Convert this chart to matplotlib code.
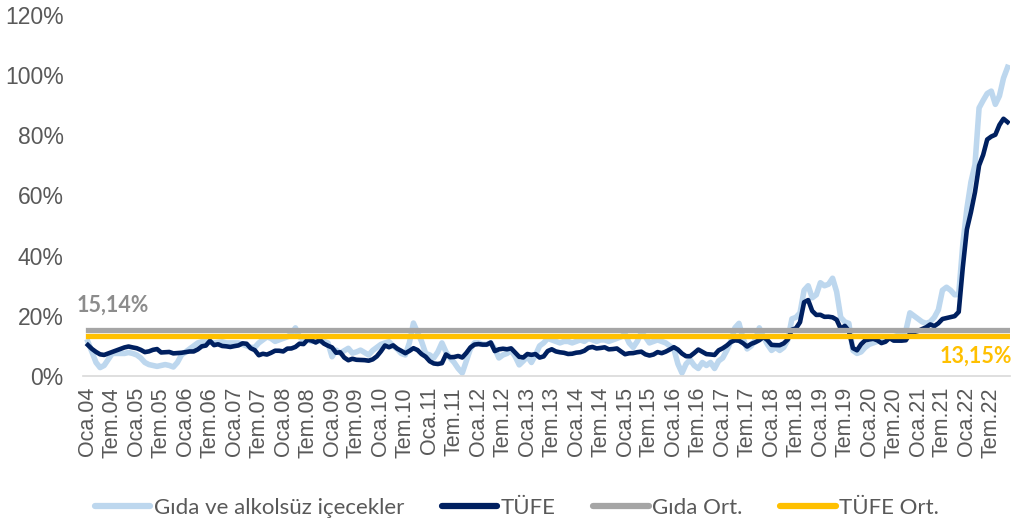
import matplotlib
matplotlib.use("Agg")
import matplotlib.pyplot as plt
from matplotlib.ticker import FuncFormatter

# Yıllık % değişim, Ocak 2004 - Kasım 2022 (aylık)
tufe = [
    10.3, 9.0, 8.0, 7.2, 7.0, 7.5, 8.0, 8.5, 9.0, 9.5, 9.8, 9.5,              # 2004
    9.24, 8.69, 7.94, 8.18, 8.70, 8.95, 7.82, 7.91, 7.99, 7.52, 7.61, 7.72,   # 2005
    7.93, 8.15, 8.16, 8.83, 9.86, 10.12, 11.69, 10.26, 10.55, 9.98, 9.86, 9.65,
    9.93, 10.16, 10.86, 10.72, 9.23, 8.60, 6.90, 7.39, 7.12, 7.70, 8.40, 8.39,
    8.17, 9.10, 9.15, 9.66, 10.74, 10.61, 12.06, 11.77, 11.13, 11.99, 10.76, 10.06,
    9.50, 7.73, 7.89, 6.13, 5.24, 5.73, 5.39, 5.33, 5.27, 5.08, 5.53, 6.53,
    8.19, 10.13, 9.56, 10.19, 9.10, 8.37, 7.58, 8.33, 9.24, 8.62, 7.29, 6.40,
    4.90, 4.16, 3.99, 4.26, 7.17, 6.24, 6.31, 6.65, 6.15, 7.66, 9.48, 10.45,
    10.61, 10.43, 10.43, 11.14, 8.28, 8.87, 9.07, 8.88, 9.19, 7.80, 6.37, 6.16,
    7.31, 7.03, 7.29, 6.13, 6.51, 8.30, 8.88, 8.17, 7.88, 7.71, 7.32, 7.40,
    7.75, 7.89, 8.39, 9.38, 9.66, 9.16, 9.32, 9.54, 8.86, 8.96, 9.15, 8.17,
    7.24, 7.55, 7.61, 7.91, 8.09, 7.20, 6.81, 7.14, 7.95, 7.58, 8.10, 8.81,
    9.58, 8.78, 7.46, 6.57, 6.58, 7.64, 8.79, 8.05, 7.28, 7.16, 7.00, 8.53,
    9.22, 10.13, 11.29, 11.87, 11.72, 10.90, 9.79, 10.68, 11.20, 11.90, 12.98, 11.92,
    10.35, 10.26, 10.23, 10.85, 12.15, 15.39, 15.85, 17.90, 24.52, 25.24, 21.62, 20.30,
    20.35, 19.67, 19.71, 19.50, 18.71, 15.72, 16.65, 15.01, 9.26, 8.55, 10.56, 11.84,
    12.15, 12.37, 11.86, 10.94, 11.39, 12.62, 11.76, 11.77, 11.75, 11.89, 14.03, 14.60,
    14.97, 15.61, 16.19, 17.14, 16.59, 17.53, 18.95, 19.25, 19.58, 19.89, 21.31, 36.08,
    48.69, 54.44, 61.14, 69.97, 73.50, 78.62, 79.60, 80.21, 83.45, 85.51, 84.39,  # 2022
]

gida = [
    11.4, 8.0, 4.5, 2.8, 3.5, 5.5, 7.5, 7.5, 7.5, 7.5, 7.8, 7.5,            # 2004
    7.0, 6.0, 4.5, 3.8, 3.5, 3.2, 3.5, 3.8, 3.5, 3.0, 4.5, 7.0,             # 2005
    8.0, 9.0, 10.0, 11.0, 11.4, 11.4, 11.2, 11.0, 11.2, 11.4, 11.0, 11.0,
    11.0, 11.0, 10.5, 10.0, 9.5, 9.5, 11.0, 12.0, 13.0, 12.5, 11.5, 12.0,
    12.5, 13.0, 14.0, 16.0, 13.0, 12.0, 12.0, 11.5, 12.0, 11.5, 11.5, 11.0,
    6.4, 8.6, 7.6, 8.4, 9.2, 7.6, 8.0, 8.6, 7.8, 7.0, 8.5, 9.5,
    10.5, 11.0, 11.4, 10.0, 9.0, 7.5, 7.0, 11.0, 17.6, 14.5, 11.5, 7.5,
    7.0, 6.0, 8.0, 11.0, 8.0, 6.0, 4.5, 2.5, 1.0, 5.0, 9.0, 11.0,
    11.0, 10.5, 10.5, 11.0, 9.0, 6.0, 7.0, 7.5, 8.5, 6.5, 3.7, 5.0,
    6.5, 4.5, 7.0, 10.0, 11.0, 12.5, 12.0, 11.5, 11.0, 11.5, 11.5, 11.0,
    11.5, 12.0, 11.5, 12.5, 12.0, 11.5, 12.0, 12.0, 11.5, 12.0, 12.5, 13.0,
    14.0, 11.0, 9.5, 11.5, 14.4, 13.0, 11.0, 11.5, 12.0, 11.5, 11.0, 10.0,
    9.0, 4.0, 1.0, 4.0, 5.4, 3.5, 2.5, 4.5, 3.5, 4.5, 2.5, 5.0,
    6.0, 8.5, 11.5, 16.0, 17.5, 12.5, 9.0, 10.0, 12.0, 16.0, 13.0, 10.5,
    8.5, 9.5, 8.5, 9.5, 12.0, 19.0, 19.5, 21.0, 28.5, 30.0, 26.0, 27.0,
    31.0, 30.0, 30.5, 32.5, 28.0, 19.5, 18.0, 17.5, 8.5, 7.5, 8.0, 9.5,
    10.5, 11.0, 11.5, 12.0, 12.5, 13.0, 13.0, 13.5, 14.0, 15.0, 21.0, 20.0,
    19.0, 18.0, 17.5, 18.0, 19.5, 22.0, 28.5, 29.5, 28.5, 27.0, 27.1, 43.8,
    55.6, 64.5, 70.3, 89.1, 91.6, 93.9, 94.7, 90.3, 93.1, 99.0, 102.6,      # 2022
]

gida_ort = 15.14
tufe_ort = 13.15

yillar = list(range(4, 23))
ay_adlari = ["Oca", "Tem"]

n = len(tufe)
x = list(range(n))
etiketler = [f"{a}.{y:02d}" for y in yillar for a in ay_adlari]
tick_pos = list(range(0, 6 * len(etiketler), 6))

fig = plt.figure(figsize=(10.15, 5.24), dpi=100)
ax = fig.add_axes([83 / 1015, 148 / 524, 927 / 1015, 361 / 524])

ax.plot(x, gida, color="#BDD7EE", lw=4.0, label="Gıda ve alkolsüz içecekler", solid_joinstyle="round")
ax.plot(x, tufe, color="#002060", lw=3.3, label="TÜFE", solid_joinstyle="round")
ax.plot(x, [gida_ort] * n, color="#A5A5A5", lw=3.8, label="Gıda Ort.")
ax.plot(x, [tufe_ort] * n, color="#FFC000", lw=3.8, label="TÜFE Ort.")

ax.set_xlim(-1.2, 226.6)
ax.set_ylim(0, 120)
ax.set_yticks(range(0, 121, 20))
ax.yaxis.set_major_formatter(FuncFormatter(lambda v, p: f"{v:.0f}%"))
ax.set_xticks(tick_pos)
ax.set_xticklabels(etiketler, rotation=90)

for s in ["top", "right", "left"]:
    ax.spines[s].set_visible(False)
ax.spines["bottom"].set_color("#D9D9D9")
ax.spines["bottom"].set_linewidth(1.2)
ax.tick_params(axis="both", length=0, colors="#595959")
ax.tick_params(axis="y", labelsize=16.5, pad=14)
ax.tick_params(axis="x", labelsize=15.5, pad=8)
for lbl in ax.get_xticklabels() + ax.get_yticklabels():
    lbl.set_fontfamily("Liberation Sans")

ax.text(-2.8, 23.5, "15,14%", color="#8C8C8C", fontsize=15.5, fontweight="bold",
        fontfamily="Lato", ha="left", va="center")
ax.text(227.0, 6.5, "13,15%", color="#FFC000", fontsize=15.5, fontweight="bold",
        fontfamily="Lato", ha="right", va="center")

leg = ax.legend(loc="center", bbox_to_anchor=(0.468, -0.366), ncol=4, frameon=False,
                prop={"family": "Lato", "size": 16}, handlelength=2.5,
                handletextpad=0.15, columnspacing=1.7, labelcolor="#595959")
for h in leg.get_lines():
    h.set_linewidth(4.5)
    h.set_solid_capstyle("round")

fig.savefig("out.png", dpi=100)
